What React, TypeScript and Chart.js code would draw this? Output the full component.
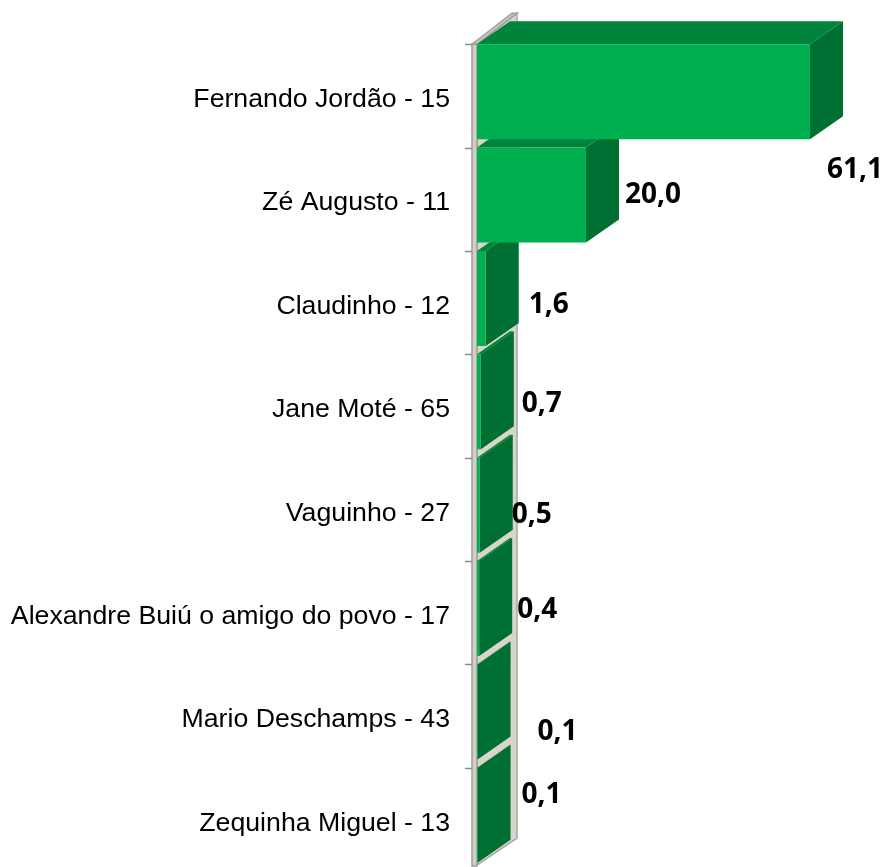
import React, { useEffect, useRef } from 'react';
import { Chart, registerables } from 'chart.js';

Chart.register(...registerables);

// ---- data ----
const categories: string[] = [
  'Fernando Jordão - 15',
  'Zé Augusto - 11',
  'Claudinho - 12',
  'Jane Moté - 65',
  'Vaguinho - 27',
  'Alexandre Buiú o amigo do povo - 17',
  'Mario Deschamps - 43',
  'Zequinha Miguel - 13',
];
const values: number[] = [61.1, 20.0, 1.6, 0.7, 0.5, 0.4, 0.1, 0.1];
const valueLabels: string[] = ['61,1', '20,0', '1,6', '0,7', '0,5', '0,4', '0,1', '0,1'];

// ---- label placement nudges (style, not data) ----
const labelNudgeX: number[] = [-24, -2, 2, 0, -9, -3, 19, 3];
const labelNudgeY: number[] = [76, -2, 5, 0, 8, -1, 18, -22];

const FRONT = '#00B050';
const TOP = '#00843C';
const SIDE = '#007032';
const DEPTH_X = 33;
const DEPTH_Y = -23;

function poly(ctx: CanvasRenderingContext2D, pts: number[][], fill: string, stroke?: string) {
  ctx.beginPath();
  ctx.moveTo(pts[0][0], pts[0][1]);
  for (let i = 1; i < pts.length; i++) ctx.lineTo(pts[i][0], pts[i][1]);
  ctx.closePath();
  ctx.fillStyle = fill;
  ctx.fill();
  if (stroke) {
    ctx.strokeStyle = stroke;
    ctx.lineWidth = 1.5;
    ctx.stroke();
  }
}

const threeDPlugin = {
  id: 'threeD',
  beforeDatasetsDraw(chart: any) {
    const ctx: CanvasRenderingContext2D = chart.ctx;
    const area = chart.chartArea;
    const meta = chart.getDatasetMeta(0);
    const els = meta.data;
    if (!els.length) return;
    const first = els[0].getProps(['x', 'y', 'base', 'height'], true);
    const wx = area.left;
    const wTop = first.y - first.height / 2;
    const wBot = area.bottom - 2;
    const wdx = 40;
    const wdy = -31;
    ctx.save();
    // back wall panel
    poly(ctx, [[wx, wTop], [wx + wdx, wTop + wdy], [wx + wdx, wBot + wdy + 4], [wx, wBot]], '#D9D5CB', '#A6A6A6');
    // wall thickness top cap
    poly(ctx, [[wx - 5, wTop], [wx, wTop], [wx + wdx, wTop + wdy], [wx + wdx - 5, wTop + wdy]], '#CFCBC2', '#A0A0A0');
    // wall thickness front strip
    poly(ctx, [[wx - 5, wTop], [wx, wTop], [wx, wBot + 1], [wx - 5, wBot + 1]], '#D3CFC6', '#9E9E9E');
    // tick marks
    ctx.strokeStyle = '#8C8C8C';
    ctx.lineWidth = 1.5;
    for (let i = 0; i < els.length; i++) {
      const p = els[i].getProps(['y', 'height'], true);
      const ty = Math.round(p.y - p.height / 2) + 0.5;
      ctx.beginPath();
      ctx.moveTo(wx - 12, ty);
      ctx.lineTo(wx - 5, ty);
      ctx.stroke();
    }
    // bar top and side faces, back-most (lowest) first
    for (let i = els.length - 1; i >= 0; i--) {
      const p = els[i].getProps(['x', 'y', 'base', 'height'], true);
      const top = p.y - p.height / 2;
      const bottom = p.y + p.height / 2;
      const base = p.base;
      const x = p.x;
      poly(ctx, [[base, top], [x, top], [x + DEPTH_X, top + DEPTH_Y], [base + DEPTH_X, top + DEPTH_Y]], TOP);
      poly(ctx, [[x, top], [x + DEPTH_X, top + DEPTH_Y], [x + DEPTH_X, bottom + DEPTH_Y], [x, bottom]], SIDE);
    }
    ctx.restore();
  },
  afterDatasetsDraw(chart: any) {
    const ctx: CanvasRenderingContext2D = chart.ctx;
    const meta = chart.getDatasetMeta(0);
    ctx.save();
    ctx.font = 'bold 28px "Open Sans"';
    ctx.fillStyle = '#000000';
    ctx.textAlign = 'left';
    ctx.textBaseline = 'alphabetic';
    meta.data.forEach((el: any, i: number) => {
      const p = el.getProps(['x', 'y'], true);
      const lx = p.x + DEPTH_X + 8 + labelNudgeX[i];
      const ly = p.y + labelNudgeY[i] + 10;
      ctx.fillText(valueLabels[i], lx, ly);
    });
    ctx.restore();
  },
};

export default function App() {
  const ref = useRef<HTMLCanvasElement | null>(null);

  useEffect(() => {
    if (!ref.current) return;
    const chart = new Chart(ref.current, {
      type: 'bar',
      data: {
        labels: categories,
        datasets: [
          {
            data: values,
            backgroundColor: FRONT,
            borderWidth: 0,
            categoryPercentage: 1,
            barPercentage: 0.919,
          },
        ],
      },
      options: {
        indexAxis: 'y',
        responsive: false,
        animation: false,
        layout: { padding: { top: 40, right: 25.5, bottom: 0, left: 0 } },
        plugins: {
          legend: { display: false },
          tooltip: { enabled: false },
        },
        scales: {
          x: {
            display: false,
            min: 0,
            max: 70,
          },
          y: {
            position: 'left',
            grid: { display: false, drawTicks: false },
            border: { display: false },
            afterFit: (scale: any) => {
              scale.width = 477;
              scale.paddingTop = 0;
              scale.paddingBottom = 0;
            },
            ticks: {
              padding: 27,
              labelOffset: 8,
              color: '#000000',
              font: { family: '"Liberation Sans", Arial, sans-serif', size: 26.7 },
              autoSkip: false,
            },
          },
        },
      },
      plugins: [threeDPlugin],
    } as any);
    return () => chart.destroy();
  }, []);

  return (
    <div style={{ position: 'fixed', left: 0, top: 0, width: 884, height: 867, overflow: 'hidden', background: '#fff' }}>
      <canvas ref={ref} width={884} height={867} style={{ display: 'block' }} />
    </div>
  );
}
